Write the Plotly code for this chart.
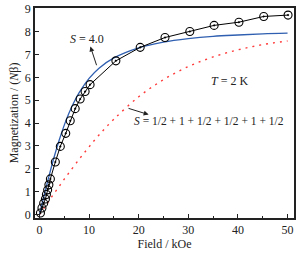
import plotly.graph_objects as go

# measured data (circles)
field_meas = [0.2, 0.5, 0.85, 1.2, 1.4, 1.65, 1.9, 2.2, 3.2, 4.2, 5.3, 6.2, 7.2, 8.2, 9.2, 10.2,
              15.4, 20.3, 25.3, 30.3, 35.2, 40.2, 45.2, 50.1]
mag_meas = [0.07, 0.29, 0.5, 0.68, 0.88, 1.08, 1.3, 1.56, 2.3, 2.98, 3.55, 4.1, 4.63, 5.05, 5.38, 5.68,
            6.72, 7.31, 7.74, 8.0, 8.27, 8.41, 8.66, 8.72]

# S = 4.0 curve (blue)
field_s4 = [0, 0.5, 1, 2, 3, 4, 5, 6, 7, 8, 10, 12, 15, 20, 25, 30, 35, 40, 45, 50]
mag_s4 = [0, 0.45, 0.89, 1.75, 2.55, 3.27, 3.91, 4.46, 4.93, 5.33, 5.95, 6.40, 6.85, 7.29,
          7.54, 7.69, 7.79, 7.85, 7.90, 7.93]

# S = 1/2 + 1 + 1/2 + 1/2 + 1 + 1/2 curve (red dotted)
field_sum = [0, 1, 2, 3, 4, 5, 6, 8, 10, 12, 15, 20, 25, 30, 35, 40, 45, 50]
mag_sum = [0, 0.31, 0.63, 0.94, 1.24, 1.55, 1.84, 2.42, 2.96, 3.48, 4.17, 5.15, 5.90, 6.47,
           6.89, 7.20, 7.43, 7.59]

x_ticks = [0, 10, 20, 30, 40, 50]
y_ticks = [0, 1, 2, 3, 4, 5, 6, 7, 8, 9]

FONT = "Liberation Serif, Times New Roman, serif"

fig = go.Figure()
fig.add_trace(go.Scatter(x=field_sum, y=mag_sum, mode="lines", line_shape="spline",
                         line=dict(color="#ff3b3b", width=1.4, dash="2px,5px"), showlegend=False))
fig.add_trace(go.Scatter(x=field_s4, y=mag_s4, mode="lines", line_shape="spline",
                         line=dict(color="#2f5fb0", width=1.3), showlegend=False))
fig.add_trace(go.Scatter(x=field_meas, y=mag_meas, mode="lines+markers",
                         line=dict(color="black", width=1),
                         marker=dict(symbol="circle-open-dot", size=8, color="black",
                                     line=dict(color="black", width=1.1)),
                         showlegend=False))

fig.add_annotation(x=9.6, y=7.66, text="<i>S</i> = 4.0", showarrow=False,
                   font=dict(family=FONT, size=12, color="#222"))
fig.add_annotation(x=10.26, y=7.35, text="", showarrow=True, ax=6.7, ay=20.3,
                   arrowhead=2, arrowsize=1, arrowwidth=1, arrowcolor="#222")
fig.add_annotation(x=34.1, y=4.07, text="<i>S</i> = 1/2 + 1 + 1/2 + 1/2 + 1 + 1/2", showarrow=False,
                   font=dict(family=FONT, size=11.5, color="#222"))
fig.add_annotation(x=22.0, y=4.37, text="", showarrow=True, ax=-21.6, ay=-6.7,
                   arrowhead=2, arrowsize=1, arrowwidth=1, arrowcolor="#222")
fig.add_annotation(x=38.4, y=5.83, text="<i>T</i> = 2 K", showarrow=False,
                   font=dict(family=FONT, size=12, color="#222"))

fig.update_layout(
    width=301, height=253,
    margin=dict(l=35, r=7, t=8, b=35),
    paper_bgcolor="white", plot_bgcolor="white",
    font=dict(family=FONT, size=12, color="#222"),
)
fig.update_xaxes(range=[-0.9, 51.3], tickvals=x_ticks, ticks="inside", ticklen=4,
                 tickcolor="#222", showline=True, linecolor="#222", linewidth=1.5, mirror=True,
                 showgrid=False, zeroline=False, automargin=False,
                 minor=dict(dtick=5, ticks="inside", ticklen=2.5, tickcolor="#222"),
                 title=dict(text="Field / kOe", standoff=2, font=dict(size=12)))
fig.update_yaxes(range=[-0.15, 9.03], tickvals=y_ticks, ticks="inside", ticklen=4,
                 tickcolor="#222", showline=True, linecolor="#222", linewidth=1.5, mirror=True,
                 showgrid=False, zeroline=False, automargin=False,
                 title=dict(text="Magnetization / (<i>N</i>β)", standoff=4, font=dict(size=12)))

fig.write_html("out.html", config={"displayModeBar": False},
               post_script="document.body.style.margin='0px';document.body.style.overflow='hidden';")
